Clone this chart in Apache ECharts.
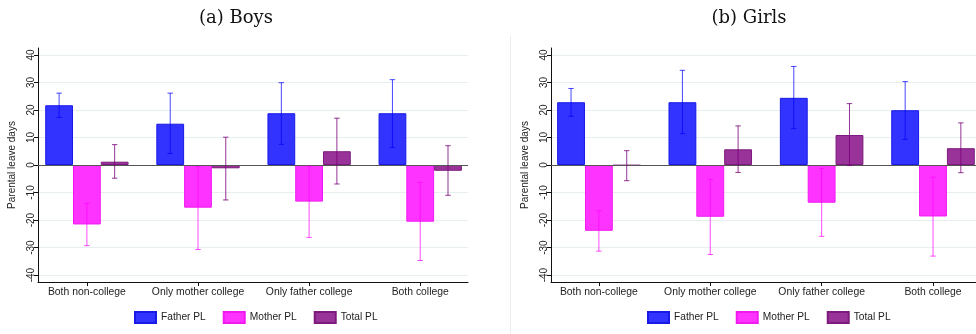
<!DOCTYPE html>
<html>
<head>
<meta charset="utf-8">
<script src="https://cdn.jsdelivr.net/npm/echarts@6/dist/echarts.min.js"></script>
<style>
  html, body { margin: 0; padding: 0; background: #ffffff; }
  #chart { width: 976px; height: 334px; }
</style>
</head>
<body>
<div id="chart"></div>
<script>
// Parental leave effects by parents' education, boys and girls panels
const categories = ['Both non-college', 'Only mother college', 'Only father college', 'Both college'];
const seriesNames = ['Father PL', 'Mother PL', 'Total PL'];
const yTicks = [-40, -30, -20, -10, 0, 10, 20, 30, 40];

// Boys: point estimates and 95% CI bounds
const boysFather   = [21.7, 15.0, 18.8, 18.8];
const boysFatherLo = [17.3, 4.2, 7.5, 6.4];
const boysFatherHi = [26.1, 26.1, 29.9, 31.0];
const boysMother   = [-21.6, -15.5, -13.3, -20.6];
const boysMotherLo = [-29.3, -30.7, -26.3, -34.7];
const boysMotherHi = [-13.9, -0.6, -0.4, -6.3];
const boysTotal    = [1.2, -1.2, 5.0, -2.1];
const boysTotalLo  = [-4.8, -12.7, -6.9, -11.0];
const boysTotalHi  = [7.4, 10.1, 17.0, 7.0];

// Girls: point estimates and 95% CI bounds
const girlsFather   = [22.8, 22.8, 24.4, 19.9];
const girlsFatherLo = [17.7, 11.4, 13.2, 9.3];
const girlsFatherHi = [27.8, 34.4, 35.8, 30.3];
const girlsMother   = [-23.9, -18.8, -13.7, -18.7];
const girlsMotherLo = [-31.3, -32.5, -25.9, -33.1];
const girlsMotherHi = [-16.6, -5.2, -1.3, -4.4];
const girlsTotal    = [-0.2, 5.7, 10.9, 6.1];
const girlsTotalLo  = [-5.7, -2.7, -0.2, -2.8];
const girlsTotalHi  = [5.2, 14.2, 22.3, 15.3];

const FILL   = ['#3333ff', '#ff33ff', '#993399'];
const BORDER = ['#1a1ae6', '#f01af0', '#7d1a7d'];
const ERR    = ['rgba(0,0,255,0.72)', 'rgba(255,0,255,0.7)', 'rgba(120,0,120,0.8)'];
const CAT_GAP = 0.25;
const FONT = '"Liberation Sans", Arial, sans-serif';

const chart = echarts.init(document.getElementById('chart'), null, { renderer: 'canvas' });

function xAxisFor(i, min, max) {
  return {
    type: 'value', gridIndex: i, min: min, max: max,
    axisLine: { show: true, onZero: false, lineStyle: { color: '#111', width: 1 } },
    axisTick: { show: true, customValues: [0, 1, 2, 3], length: 4, lineStyle: { color: '#111' } },
    axisLabel: {
      customValues: [0, 1, 2, 3],
      formatter: v => categories[Math.round(v)],
      fontSize: 10.4, color: '#222', margin: 5, fontFamily: FONT
    },
    splitLine: { show: false }
  };
}

function yAxisFor(i) {
  return {
    type: 'value', gridIndex: i, min: -42.5, max: 42.5,
    name: 'Parental leave days', nameLocation: 'middle', nameRotate: 90, nameGap: 21,
    nameTextStyle: { fontSize: 10, color: '#222', fontFamily: FONT },
    axisLine: { show: true, onZero: false, lineStyle: { color: '#111', width: 1 } },
    axisTick: { show: true, customValues: yTicks, length: 4, lineStyle: { color: '#111' } },
    axisLabel: { customValues: yTicks, rotate: 90, fontSize: 10, color: '#222', margin: 2, fontFamily: FONT },
    splitLine: { show: true, lineStyle: { color: '#e6eef0', width: 1 } }
  };
}

function barSeries(i, k, values) {
  return {
    type: 'bar', name: seriesNames[k], xAxisIndex: i, yAxisIndex: i,
    data: values.map((v, c) => [c, v]),
    barGap: '0%', barCategoryGap: (CAT_GAP * 100) + '%',
    itemStyle: { color: FILL[k], borderColor: BORDER[k], borderWidth: 1 },
    emphasis: { disabled: true }
  };
}

function errorSeries(i, groups) {
  const rows = [];
  groups.forEach((g, k) => {
    g.lo.forEach((lo, c) => rows.push([c, lo, g.hi[c], k]));
  });
  return {
    type: 'custom', xAxisIndex: i, yAxisIndex: i, z: 5, silent: true,
    encode: { x: 0, y: [1, 2] },
    data: rows,
    renderItem: function (params, api) {
      const x = api.value(0), lo = api.value(1), hi = api.value(2), k = api.value(3);
      const unit = api.size([1, 0])[0];
      const barW = unit * (1 - CAT_GAP) / 3;
      const cx = api.coord([x, 0])[0] + (k - 1) * barW;
      const yLo = api.coord([x, lo])[1];
      const yHi = api.coord([x, hi])[1];
      const cap = 2.7;
      const style = { stroke: ERR[k], lineWidth: 1, fill: null };
      return {
        type: 'group',
        children: [
          { type: 'line', shape: { x1: cx, y1: yLo, x2: cx, y2: yHi }, style: style },
          { type: 'line', shape: { x1: cx - cap, y1: yHi, x2: cx + cap, y2: yHi }, style: style },
          { type: 'line', shape: { x1: cx - cap, y1: yLo, x2: cx + cap, y2: yLo }, style: style }
        ]
      };
    },
    markLine: {
      silent: true, symbol: ['none', 'none'], label: { show: false },
      lineStyle: { color: '#555', width: 1, type: 'solid' },
      data: [{ yAxis: 0 }]
    }
  };
}

function legendAt(left) {
  return {
    left: left, top: 306, orient: 'horizontal',
    data: seriesNames, icon: 'rect', itemWidth: 21, itemHeight: 11, itemGap: 17,
    selectedMode: false,
    textStyle: { fontSize: 10.2, color: '#222', fontFamily: FONT }
  };
}

const option = {
  animation: false,
  textStyle: { fontFamily: FONT },
  grid: [
    { left: 38, right: 508, top: 48, bottom: 52 },
    { left: 551, right: 0, top: 48, bottom: 52 }
  ],
  xAxis: [xAxisFor(0, -0.44, 3.43), xAxisFor(1, -0.43, 3.386)],
  yAxis: [yAxisFor(0), yAxisFor(1)],
  legend: [legendAt(129), legendAt(642)],
  graphic: [
    { type: 'line', silent: true, shape: { x1: 510.5, y1: 36, x2: 510.5, y2: 334 },
      style: { stroke: '#ececec', lineWidth: 1 } },
    { type: 'text', silent: true, x: 236, y: 18,
      style: { text: '(a) Boys', font: '18px "DejaVu Serif", serif', fill: '#111', textAlign: 'center', textVerticalAlign: 'middle' } },
    { type: 'text', silent: true, x: 749, y: 18,
      style: { text: '(b) Girls', font: '18px "DejaVu Serif", serif', fill: '#111', textAlign: 'center', textVerticalAlign: 'middle' } }
  ],
  series: [
    barSeries(0, 0, boysFather),
    barSeries(0, 1, boysMother),
    barSeries(0, 2, boysTotal),
    errorSeries(0, [
      { lo: boysFatherLo, hi: boysFatherHi },
      { lo: boysMotherLo, hi: boysMotherHi },
      { lo: boysTotalLo, hi: boysTotalHi }
    ]),
    barSeries(1, 0, girlsFather),
    barSeries(1, 1, girlsMother),
    barSeries(1, 2, girlsTotal),
    errorSeries(1, [
      { lo: girlsFatherLo, hi: girlsFatherHi },
      { lo: girlsMotherLo, hi: girlsMotherHi },
      { lo: girlsTotalLo, hi: girlsTotalHi }
    ])
  ]
};

chart.setOption(option);
</script>
</body>
</html>
